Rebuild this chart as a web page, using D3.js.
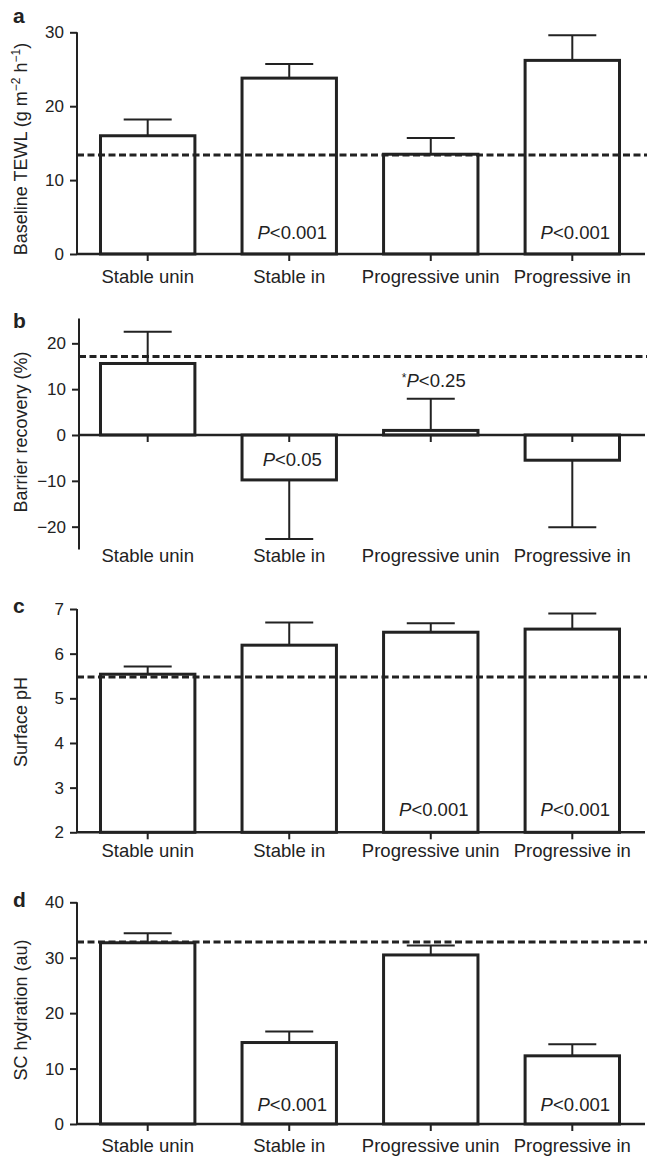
<!DOCTYPE html>
<html>
<head>
<meta charset="utf-8">
<script src="https://cdn.jsdelivr.net/npm/d3@7"></script>
<style>
  html, body { margin: 0; padding: 0; background: #fff; }
  text { font-family: "Liberation Sans", Arial, Helvetica, sans-serif; fill: #222; }
</style>
</head>
<body>
<script>
// ---------- data ----------
const categories = ["Stable unin", "Stable in", "Progressive unin", "Progressive in"];

const tewlMeans = [16.0, 23.8, 13.5, 26.2];
const tewlSem   = [2.2, 1.9, 2.2, 3.4];
const tewlRef   = 13.4;
const tewlTicks = [0, 10, 20, 30];

const recoveryMeans = [15.6, -9.8, 1.0, -5.5];
const recoverySem   = [6.9, 12.9, 6.9, 14.6];
const recoveryRef   = 17.1;
const recoveryTicks = [-20, -10, 0, 10, 20];

const phMeans = [5.54, 6.19, 6.48, 6.55];
const phSem   = [0.17, 0.51, 0.20, 0.35];
const phRef   = 5.48;
const phTicks = [2, 3, 4, 5, 6, 7];

const hydMeans = [32.7, 14.7, 30.5, 12.3];
const hydSem   = [1.7, 2.0, 1.7, 2.1];
const hydRef   = 32.85;
const hydTicks = [0, 10, 20, 30, 40];

const tewlNotes     = [{ i: 1, star: false, p: "0.001" }, { i: 3, star: false, p: "0.001" }];
const recoveryNotes = [{ i: 1, star: false, p: "0.05" }, { i: 2, star: true, p: "0.25" }];
const phNotes       = [{ i: 2, star: false, p: "0.001" }, { i: 3, star: false, p: "0.001" }];
const hydNotes      = [{ i: 1, star: false, p: "0.001" }, { i: 3, star: false, p: "0.001" }];

// ---------- drawing ----------
const W = 647, H = 1157;
const ink = "#222";
const svg = d3.select("body").append("svg").attr("width", W).attr("height", H);

function drawPanel(cfg) {
  const g = svg.append("g");
  const x = d3.scaleBand().domain(categories).range([77, 643]).paddingInner(0.333).paddingOuter(0.166);
  const y = d3.scaleLinear().domain(cfg.domain).range(cfg.range);
  const base = cfg.base;
  const axisX = cfg.axisX;

  // bars
  g.selectAll("rect.bar").data(cfg.means).enter().append("rect")
    .attr("x", (d, i) => x(categories[i]))
    .attr("width", x.bandwidth())
    .attr("y", d => Math.min(y(d), y(base)))
    .attr("height", d => Math.abs(y(d) - y(base)))
    .attr("fill", "#fff").attr("stroke", ink).attr("stroke-width", 3);

  // error bars
  cfg.means.forEach((m, i) => {
    const cx = x(categories[i]) + x.bandwidth() / 2;
    const e = m >= base ? m + cfg.sem[i] : m - cfg.sem[i];
    g.append("line").attr("x1", cx).attr("x2", cx).attr("y1", y(m)).attr("y2", y(e))
      .attr("stroke", ink).attr("stroke-width", 2);
    g.append("line").attr("x1", cx - 24).attr("x2", cx + 24).attr("y1", y(e)).attr("y2", y(e))
      .attr("stroke", ink).attr("stroke-width", 2);
  });

  // y axis
  const yAxis = d3.axisLeft(y).tickValues(cfg.ticks).tickSize(7).tickPadding(6).tickFormat(d3.format("d"));
  const ya = g.append("g").attr("transform", `translate(${axisX},0)`).call(yAxis);
  ya.select(".domain").attr("stroke", ink).attr("stroke-width", 2)
    .attr("d", `M0,${y(cfg.axisTop)}V${y(cfg.axisBottom)}`);
  ya.selectAll(".tick line").attr("stroke", ink).attr("stroke-width", 2);
  ya.selectAll(".tick text").attr("font-size", 17).attr("fill", ink)
    .attr("font-family", "'Liberation Sans', Arial, sans-serif");

  // x axis line at base
  g.append("line").attr("x1", axisX).attr("x2", 645).attr("y1", y(base)).attr("y2", y(base))
    .attr("stroke", ink).attr("stroke-width", 2.5);
  // x ticks
  categories.forEach(c => {
    const cx = x(c) + x.bandwidth() / 2;
    g.append("line").attr("x1", cx).attr("x2", cx).attr("y1", y(base)).attr("y2", y(base) + 7)
      .attr("stroke", ink).attr("stroke-width", 2);
    g.append("text").attr("x", cx).attr("y", cfg.labelY).attr("text-anchor", "middle")
      .attr("font-size", 18.5).text(c);
  });

  // reference dashed line
  g.append("line").attr("x1", axisX).attr("x2", W).attr("y1", y(cfg.ref)).attr("y2", y(cfg.ref))
    .attr("stroke", ink).attr("stroke-width", 3).attr("stroke-dasharray", "7,3.5");

  // annotations
  cfg.notes.forEach(n => {
    const cx = x(categories[n.i]) + x.bandwidth() / 2 + 3;
    let ty;
    if (n.star) {
      const e = cfg.means[n.i] + cfg.sem[n.i];
      ty = y(e) - 12;
    } else if (cfg.means[n.i] < base) {
      ty = y(base) + 31;
    } else {
      ty = y(base) - cfg.noteOffset;
    }
    const t = g.append("text").attr("x", cx).attr("y", ty).attr("text-anchor", "middle").attr("font-size", 18.5);
    if (n.star) t.append("tspan").attr("font-size", 12).attr("dy", -5).text("*");
    t.append("tspan").attr("font-style", "italic").attr("dy", n.star ? 5 : 0).text("P");
    t.append("tspan").text("<" + n.p);
  });

  // panel letter
  g.append("text").attr("x", 13).attr("y", cfg.letterY).attr("font-size", 21).attr("font-weight", "bold").text(cfg.letter);

  // y title
  const tt = g.append("text").attr("transform", `translate(${cfg.titleX},${cfg.titleY}) rotate(-90)`)
    .attr("text-anchor", "middle").attr("font-size", 18);
  cfg.title(tt);
}

drawPanel({
  means: tewlMeans, sem: tewlSem, ref: tewlRef, ticks: tewlTicks,
  domain: [0, 30], range: [254, 32.3], base: 0, axisTop: 30, axisBottom: 0, axisX: 77,
  labelY: 283, notes: tewlNotes, noteOffset: 15, letter: "a", letterY: 23,
  titleX: 27, titleY: 149,
  title: t => {
    t.append("tspan").text("Baseline TEWL (g m");
    t.append("tspan").attr("font-size", 12).attr("dy", -7).text("\u22122");
    t.append("tspan").attr("dy", 7).text(" h");
    t.append("tspan").attr("font-size", 12).attr("dy", -7).text("\u22121");
    t.append("tspan").attr("dy", 7).text(")");
  }
});

drawPanel({
  means: recoveryMeans, sem: recoverySem, ref: recoveryRef, ticks: recoveryTicks,
  domain: [-25, 25], range: [549.6, 320.4], base: 0, axisTop: 25.4, axisBottom: -25, axisX: 79,
  labelY: 562, notes: recoveryNotes, noteOffset: 15, letter: "b", letterY: 328,
  titleX: 27, titleY: 432,
  title: t => t.text("Barrier recovery (%)")
});

drawPanel({
  means: phMeans, sem: phSem, ref: phRef, ticks: phTicks,
  domain: [2, 7], range: [832.3, 609], base: 2, axisTop: 7, axisBottom: 2, axisX: 77,
  labelY: 857, notes: phNotes, noteOffset: 16, letter: "c", letterY: 613,
  titleX: 27, titleY: 722,
  title: t => t.text("Surface pH")
});

drawPanel({
  means: hydMeans, sem: hydSem, ref: hydRef, ticks: hydTicks,
  domain: [0, 40], range: [1124, 902.3], base: 0, axisTop: 40, axisBottom: 0, axisX: 77,
  labelY: 1152, notes: hydNotes, noteOffset: 13, letter: "d", letterY: 907,
  titleX: 27, titleY: 1010,
  title: t => t.text("SC hydration (au)")
});
</script>
</body>
</html>
